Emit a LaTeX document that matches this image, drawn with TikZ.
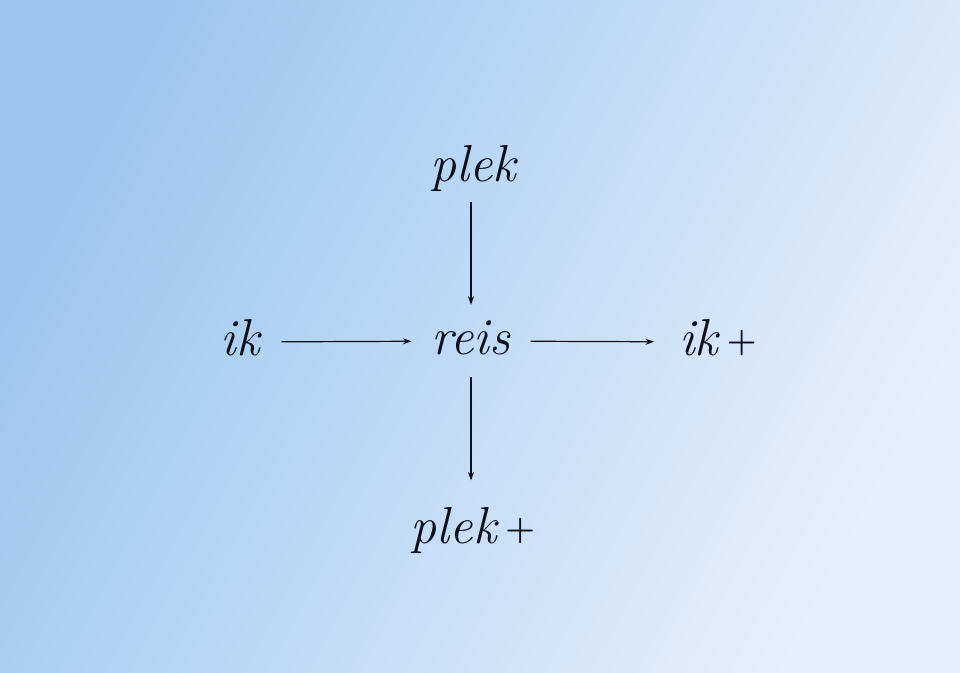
\documentclass[tikz,border=0pt]{standalone}
\usetikzlibrary{arrows.meta}
\definecolor{bgA}{HTML}{9CC6F0}
\definecolor{bgB}{HTML}{E6F0FC}
\definecolor{ink}{HTML}{0B0F1A}
\begin{document}
\begin{tikzpicture}[x=1pt,y=-1pt,
  lbl/.style={inner sep=0pt, anchor=base, font=\fontsize{52}{60}\selectfont\itshape,
    text height=36.4pt, text depth=10.4pt, text=ink},
  arr/.style={draw=ink, line width=1.2pt, -{Stealth[length=8.5pt,width=6pt]}}]
\shade[shading=axis, left color=bgA, right color=bgB, shading angle=62] (0,0) rectangle (960,672);
\useasboundingbox (0,0) rectangle (960,672);
\newcommand{\pl}{\,\raisebox{4pt}{\fontsize{34}{40}\selectfont\upshape\bfseries +}}
\node[lbl] (plek) at (473,181) {plek};
\node[lbl] (reis) at (471,354) {reis};
\node[lbl] (ik) at (240,355) {ik};
\node[lbl] (ikp) at (718,355) {ik\pl};
\node[lbl] (plekp) at (473,543) {plek\pl};
\draw[arr, shorten <=10pt, shorten >=12.6pt] (reis |- plek.south) -- (reis.north);
\draw[arr, shorten <=12.6pt, shorten >=26pt] (reis.south) -- (reis |- plekp.north);
\draw[arr, shorten <=22pt, shorten >=20pt] (ik) -- (reis);
\draw[arr, shorten <=20pt, shorten >=25pt] (reis) -- (ikp);
\end{tikzpicture}
\end{document}
